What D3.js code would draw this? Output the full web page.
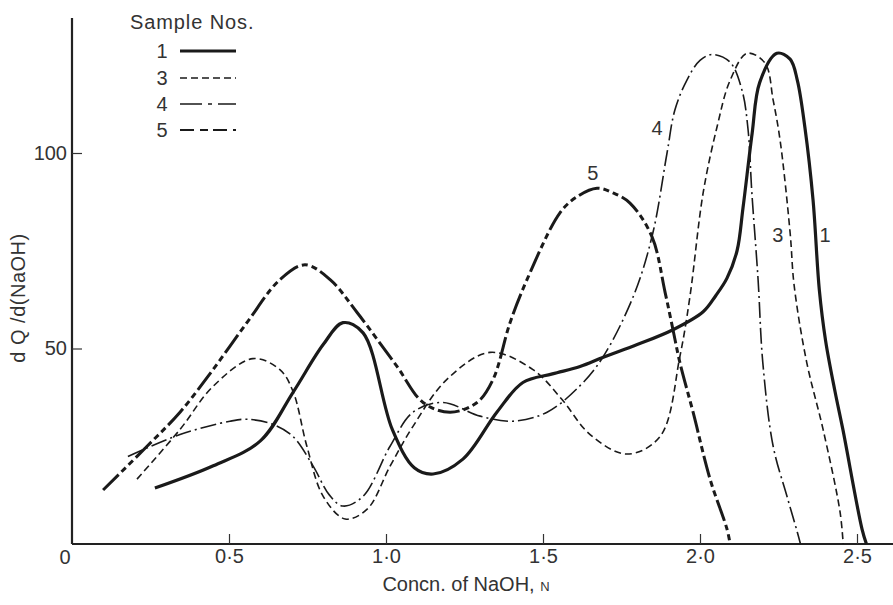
<!DOCTYPE html>
<html>
<head>
<meta charset="utf-8">
<script src="https://d3js.org/d3.v7.min.js"></script>
<style>
  body { margin: 0; background: #fff; }
  text { font-family: "Liberation Sans", "DejaVu Sans", sans-serif; fill: #333; }
</style>
</head>
<body>
<div id="my_dataviz"></div>

<script>

// values: [Concn. of NaOH (N), dQ/d(NaOH)]
var sample1 = [[0.264,14.3],[0.45,20],[0.599,26.3],[0.704,38.8],[0.80,51],[0.863,56.6],[0.927,54],
  [1.02,29.3],[1.09,19.5],[1.15,17.9],[1.245,21.7],[1.353,33.7],[1.436,41.3],[1.53,43.5],[1.618,45.4],
  [1.69,47.7],[1.8,51],[1.914,54.8],[2.01,59.4],[2.05,63.5],[2.086,68],[2.118,75],[2.137,86],[2.166,105],
  [2.19,118],[2.245,125.5],[2.287,124],[2.31,118.6],[2.334,106.6],[2.36,88],[2.38,65],[2.40,52],
  [2.43,39],[2.455,29.3],[2.516,3.8],[2.53,0]];

var sample3 = [[0.207,16.6],[0.344,29.3],[0.449,40.3],[0.576,47.4],[0.662,44.6],[0.704,39],[0.748,25],
  [0.80,12.2],[0.87,6.4],[0.94,8.9],[1.013,19.9],[1.086,30.1],[1.194,42.1],[1.331,49],[1.468,44.6],
  [1.56,37],[1.65,28],[1.767,23],[1.873,27.5],[1.936,48],[1.968,63.3],[2.01,89.8],[2.054,106.6],
  [2.096,118.6],[2.15,125.5],[2.207,123],[2.233,113.5],[2.255,103.3],[2.287,79.6],[2.3,66],[2.34,46.4],
  [2.392,29.3],[2.446,8.2],[2.456,0]];

var sample4 = [[0.178,22.4],[0.344,28],[0.503,31.4],[0.557,31.9],[0.64,30.6],[0.704,27.5],[0.768,19.9],
  [0.82,12.5],[0.863,9.7],[0.927,12.2],[1.013,25],[1.086,33.7],[1.18,36.2],[1.3,32.7],[1.404,31.4],
  [1.513,33.7],[1.618,40.5],[1.69,47.7],[1.79,63.8],[1.85,79.6],[1.895,100],[1.92,111],[1.958,118.6],
  [2.0,123.7],[2.04,125.2],[2.096,123.2],[2.134,116],[2.153,106],[2.165,90],[2.185,67.6],[2.2,46.4],
  [2.233,25],[2.277,12.2],[2.31,3],[2.32,0]];

var sample5 = [[0.099,13.8],[0.239,25],[0.344,33.7],[0.449,44.6],[0.557,56.6],[0.662,67.6],[0.742,71.4],
  [0.822,67.6],[0.908,59.2],[1.035,45.4],[1.118,36.2],[1.204,33.7],[1.29,36.2],[1.341,42.1],[1.395,56.6],
  [1.449,67.6],[1.554,84.7],[1.608,88.8],[1.672,91],[1.723,89.8],[1.777,87.2],[1.847,78.6],[1.889,64.3],
  [1.914,54.8],[1.936,46.4],[1.978,33.7],[2.032,16.6],[2.086,3.8],[2.096,0]];

var xTicks = [0.5, 1.0, 1.5, 2.0, 2.5];
var yTicks = [50, 100];
var sampleNames = ["1", "3", "4", "5"];
// where the number sits beside each curve
var curveLabels = [["1", 2.398, 79], ["3", 2.248, 79], ["4", 1.863, 106.4], ["5", 1.659, 95]];

var width = 893, height = 605;

var svg = d3.select("#my_dataviz")
  .append("svg")
    .attr("width", width)
    .attr("height", height);

var x = d3.scaleLinear().domain([0, 2.5]).range([72, 857]);
var y = d3.scaleLinear().domain([0, 100]).range([544, 153]);

// line look for each sample
var styles = {
  "1": {w: 3.2, dash: null},
  "3": {w: 1.6, dash: "7,4"},
  "4": {w: 1.6, dash: "16,4,2,4"},
  "5": {w: 3.0, dash: "22,4,6,4,6,4"}
};
var series = {"1": sample1, "3": sample3, "4": sample4, "5": sample5};

// axes
svg.append("line")
  .attr("x1", x(0)).attr("x2", width)
  .attr("y1", y(0)).attr("y2", y(0))
  .attr("stroke", "#222").attr("stroke-width", 2.2);
svg.append("line")
  .attr("x1", x(0)).attr("x2", x(0))
  .attr("y1", y(0)).attr("y2", y(134.5))
  .attr("stroke", "#222").attr("stroke-width", 2.2);

var gx = svg.append("g")
  .attr("transform", "translate(0," + y(0) + ")")
  .call(d3.axisBottom(x).tickValues(xTicks).tickSize(-10).tickPadding(5)
    .tickFormat(function(d) { return d.toFixed(1).replace(".", "\u00b7"); }));
gx.select(".domain").remove();
gx.selectAll("line").attr("stroke", "#333").attr("stroke-width", 1.2);
gx.selectAll("text").style("font-size", "20px").attr("fill", "#333");

var gy = svg.append("g")
  .attr("transform", "translate(" + x(0) + ",0)")
  .call(d3.axisLeft(y).tickValues(yTicks).tickSize(-10).tickPadding(5));
gy.select(".domain").remove();
gy.selectAll("line").attr("stroke", "#333").attr("stroke-width", 1.2);
gy.selectAll("text").style("font-size", "20px").attr("fill", "#333");

svg.append("text")
  .attr("x", 65).attr("y", 564)
  .attr("text-anchor", "middle")
  .style("font-size", "20px")
  .text("0");

// axis titles
var xt = svg.append("text")
  .attr("x", 466).attr("y", 591)
  .attr("text-anchor", "middle")
  .style("font-size", "20px")
  .text("Concn. of NaOH, ");
xt.append("tspan").style("font-size", "13px").text("N");

svg.append("text")
  .attr("transform", "translate(25,298)rotate(-90)")
  .attr("text-anchor", "middle")
  .style("font-size", "20px")
  .style("letter-spacing", "0.5px")
  .text("d Q /d(NaOH)");

// curves
var line = d3.line()
  .x(function(d) { return x(d[0]); })
  .y(function(d) { return y(d[1]); })
  .curve(d3.curveCatmullRom.alpha(0.5));

svg.append("g")
  .selectAll("path")
  .data(sampleNames)
  .enter().append("path")
    .attr("d", function(k) { return line(series[k]); })
    .attr("fill", "none")
    .attr("stroke", "#1a1a1a")
    .attr("stroke-width", function(k) { return styles[k].w; })
    .attr("stroke-dasharray", function(k) { return styles[k].dash; })
    .attr("stroke-linecap", "butt");

svg.append("g")
  .selectAll("text")
  .data(curveLabels)
  .enter().append("text")
    .attr("x", function(d) { return x(d[1]); })
    .attr("y", function(d) { return y(d[2]); })
    .attr("text-anchor", "middle")
    .attr("dy", "0.35em")
    .style("font-size", "20px")
    .text(function(d) { return d[0]; });

// legend
svg.append("text")
  .attr("x", 130).attr("y", 29)
  .style("font-size", "20px")
  .style("letter-spacing", "0.9px")
  .text("Sample  Nos.");

var legend = svg.append("g")
  .selectAll("g")
  .data(sampleNames)
  .enter().append("g")
    .attr("transform", function(d, i) { return "translate(0," + [51, 78, 104, 130][i] + ")"; });
legend.append("text")
  .attr("x", 162).attr("dy", "0.35em")
  .attr("text-anchor", "middle")
  .style("font-size", "20px")
  .text(function(d) { return d; });
legend.append("line")
  .attr("x1", 180).attr("x2", 236)
  .attr("stroke", "#1a1a1a")
  .attr("stroke-width", function(k) { return k == "5" ? 2 : styles[k].w; })
  .attr("stroke-dasharray", function(k) { return k == "4" ? "22,6,4,6" : (k == "5" ? "14,6,8,5" : styles[k].dash); });

</script>
</body>
</html>
